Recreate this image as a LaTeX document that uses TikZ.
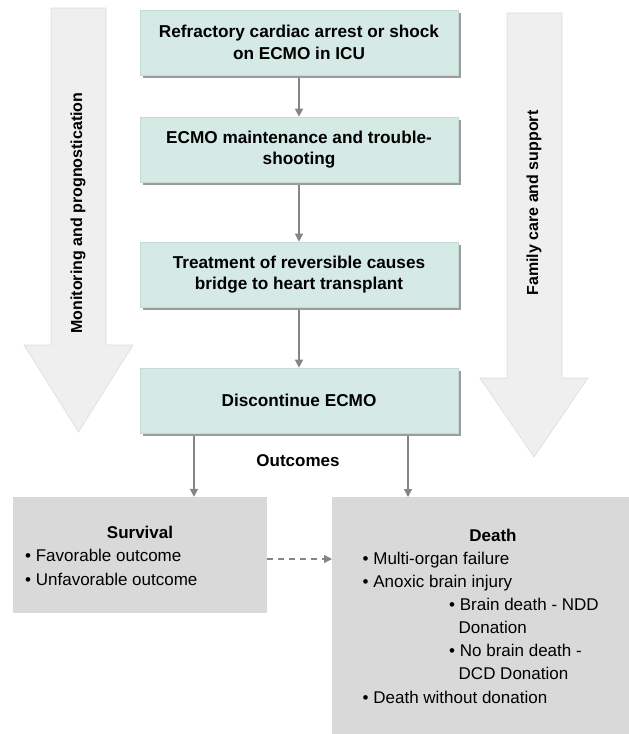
\documentclass[tikz,border=0pt]{standalone}
\usepackage{fontspec}
\setmainfont{Liberation Sans}
\usetikzlibrary{arrows.meta,shadows}
\definecolor{tealfill}{HTML}{D5E9E5}
\definecolor{tealedge}{HTML}{C3DAD5}
\definecolor{shadgray}{HTML}{9C9C9C}
\definecolor{bigfill}{HTML}{EFEFEF}
\definecolor{bigedge}{HTML}{DCDCDC}
\definecolor{outfill}{HTML}{D9D9D9}
\definecolor{conngray}{HTML}{858585}
\begin{document}
\begin{tikzpicture}[x=1pt,y=-1pt,
  stepbox/.style={draw=tealedge, fill=tealfill, line width=0.6pt,
    minimum width=318pt, minimum height=65pt, inner sep=0pt, align=center,
    font=\fontsize{17.2}{21.5}\selectfont\bfseries,
    drop shadow={shadow xshift=3pt, shadow yshift=-3pt, fill=shadgray, opacity=1}},
  outbox/.style={fill=outfill, draw=none, inner sep=0pt},
  conn/.style={draw=conngray, line width=1.3pt, -{Triangle[length=8pt,width=8pt]}},
  bigarrow/.style={fill=bigfill, draw=bigedge, line width=0.6pt},
  bigtext/.style={rotate=90, font=\fontsize{16}{18}\selectfont\bfseries},
  ttl/.style={font=\fontsize{17}{20}\selectfont\bfseries, inner sep=0pt},
  itm/.style={font=\fontsize{17}{20}\selectfont, anchor=base west, inner sep=0pt}]
\useasboundingbox (0,0) rectangle (629,734);

% side arrows
\path[bigarrow] (51,8) -- (106,8) -- (106,345) -- (133,345) -- (78.5,432) -- (24,345) -- (51,345) -- cycle;
\path[bigarrow] (507,13) -- (562,13) -- (562,378) -- (588,378) -- (534,457) -- (480,378) -- (507,378) -- cycle;
\node[bigtext] (mon) at (78,213) {Monitoring and prognostication};
\node[bigtext] (fam) at (534,203) {Family care and support};

% main boxes
\node[stepbox] (b1) at (299,42.5) {Refractory cardiac arrest or shock\\on ECMO in ICU};
\node[stepbox] (b2) at (299,149.5) {ECMO maintenance and trouble-\\shooting};
\node[stepbox] (b3) at (299,274.5) {Treatment of reversible causes\\bridge to heart transplant};
\node[stepbox] (b4) at (299,400.5) {Discontinue ECMO};

\draw[conn] ([yshift=-3pt]b1.south) -- (b2.north);
\draw[conn] ([yshift=-3pt]b2.south) -- (b3.north);
\draw[conn] ([yshift=-3pt]b3.south) -- (b4.north);

% outcome boxes
\node[outbox, minimum width=254pt, minimum height=116pt] (surv) at (140,555) {};
\node[outbox, minimum width=300pt, minimum height=242pt, anchor=north west] (death) at (332,497) {};

\node[ttl] (outc) at (298,461) {Outcomes};
\draw[conn] ([xshift=-105pt,yshift=-3pt]b4.south) -- ([xshift=-105pt]b4.south |- surv.north);
\draw[conn] ([xshift=109pt,yshift=-3pt]b4.south) -- ([xshift=109pt]b4.south |- death.north);
\draw[conn, line width=1.2pt, dash pattern=on 6pt off 5pt] ([yshift=-4pt]surv.east) -- ([yshift=-4pt]surv.east -| death.west);

% survival text
\node[ttl] (st) at (140,532) {Survival};
\node[itm] (s1) at (25,561.5) {•\ Favorable outcome};
\node[itm] (s2) at (25,585.3) {•\ Unfavorable outcome};

% death text
\node[ttl] (dt) at (493,535) {Death};
\node[itm] (d1) at (362.5,564.7) {•\ Multi-organ failure};
\node[itm] (d2) at (362.5,587.3) {•\ Anoxic brain injury};
\node[itm] (d3) at (449,610.3) {•\ Brain death - NDD};
\node[itm] (d3b) at (458.5,633.7) {Donation};
\node[itm] (d4) at (449,656.3) {•\ No brain death -};
\node[itm] (d4b) at (458.5,679.7) {DCD Donation};
\node[itm] (d5) at (362.5,703.7) {•\ Death without donation};
\end{tikzpicture}
\end{document}
